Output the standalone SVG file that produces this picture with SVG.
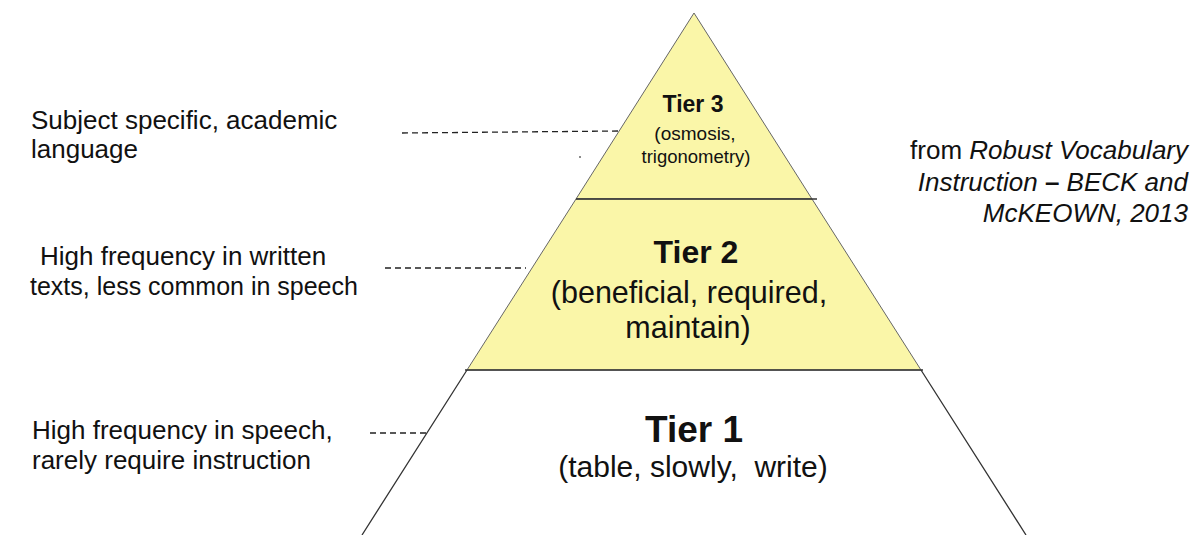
<svg xmlns="http://www.w3.org/2000/svg" width="1193" height="535" viewBox="0 0 1193 535">
<style>
text{font-family:"Liberation Sans",Arial,sans-serif;fill:#111}
.lbl{font-size:26px}
.c{text-anchor:middle}
.b{font-weight:bold}
.edge{stroke:#333;stroke-width:1.3;fill:none}
.yel{fill:#faf6a8;stroke:#666;stroke-width:1}
.dash{stroke:#222;stroke-width:1.3;stroke-dasharray:6,4;fill:none}
</style>
<rect width="1193" height="535" fill="#fff"/>
<g id="tier3">
<polygon class="yel" points="694,13 576,199 812,199"/>
<text class="c b" x="693" y="112" font-size="23">Tier 3</text>
<text class="c" x="695" y="140" font-size="19">(osmosis,</text>
<text class="c" x="696" y="163" font-size="18.5">trigonometry)</text>
</g>
<g id="tier2">
<polygon class="yel" points="576,199 812,199 921,370 467,370"/>
<text class="c b" x="696" y="263" font-size="32">Tier 2</text>
<text class="c" x="689" y="303" font-size="30.5">(beneficial, required,</text>
<text class="c" x="688" y="338" font-size="30.5">maintain)</text>
</g>
<g id="tier1">
<path class="edge" d="M467,370 L362,535 M921,370 L1026,535"/>
<text class="c b" x="694" y="442" font-size="37">Tier 1</text>
<text class="c" x="693" y="477" font-size="30" xml:space="preserve">(table, slowly,  write)</text>
</g>
<g id="connectors">
<line class="edge" x1="576" y1="199" x2="817" y2="199" stroke-width="2"/>
<line class="edge" x1="465" y1="370" x2="923" y2="370" stroke-width="2"/>
<line class="dash" x1="402" y1="133" x2="620" y2="131"/>
<line class="dash" x1="385" y1="268" x2="526" y2="268"/>
<line class="dash" x1="370" y1="433" x2="426" y2="433"/>
<circle cx="580" cy="157" r="1" fill="#666"/>
</g>
<g id="label-tier3">
<text class="lbl" x="31" y="129">Subject specific, academic</text>
<text class="lbl" x="31" y="158">language</text>
</g>
<g id="label-tier2">
<text class="lbl" x="40" y="265">High frequency in written</text>
<text class="lbl" x="30" y="295" style="font-size:25px">texts, less common in speech</text>
</g>
<g id="label-tier1">
<text class="lbl" x="32" y="439">High frequency in speech,</text>
<text class="lbl" x="32" y="469">rarely require instruction</text>
</g>
<g id="source">
<text class="lbl" x="1188" y="159" text-anchor="end">from <tspan font-style="italic">Robust Vocabulary</tspan></text>
<text class="lbl" x="1188" y="191" text-anchor="end"><tspan font-style="italic">Instruction </tspan><tspan font-weight="bold">–</tspan><tspan font-style="italic"> BECK and</tspan></text>
<text class="lbl" x="1188" y="222" text-anchor="end" font-style="italic">McKEOWN, 2013</text>
</g>
</svg>
